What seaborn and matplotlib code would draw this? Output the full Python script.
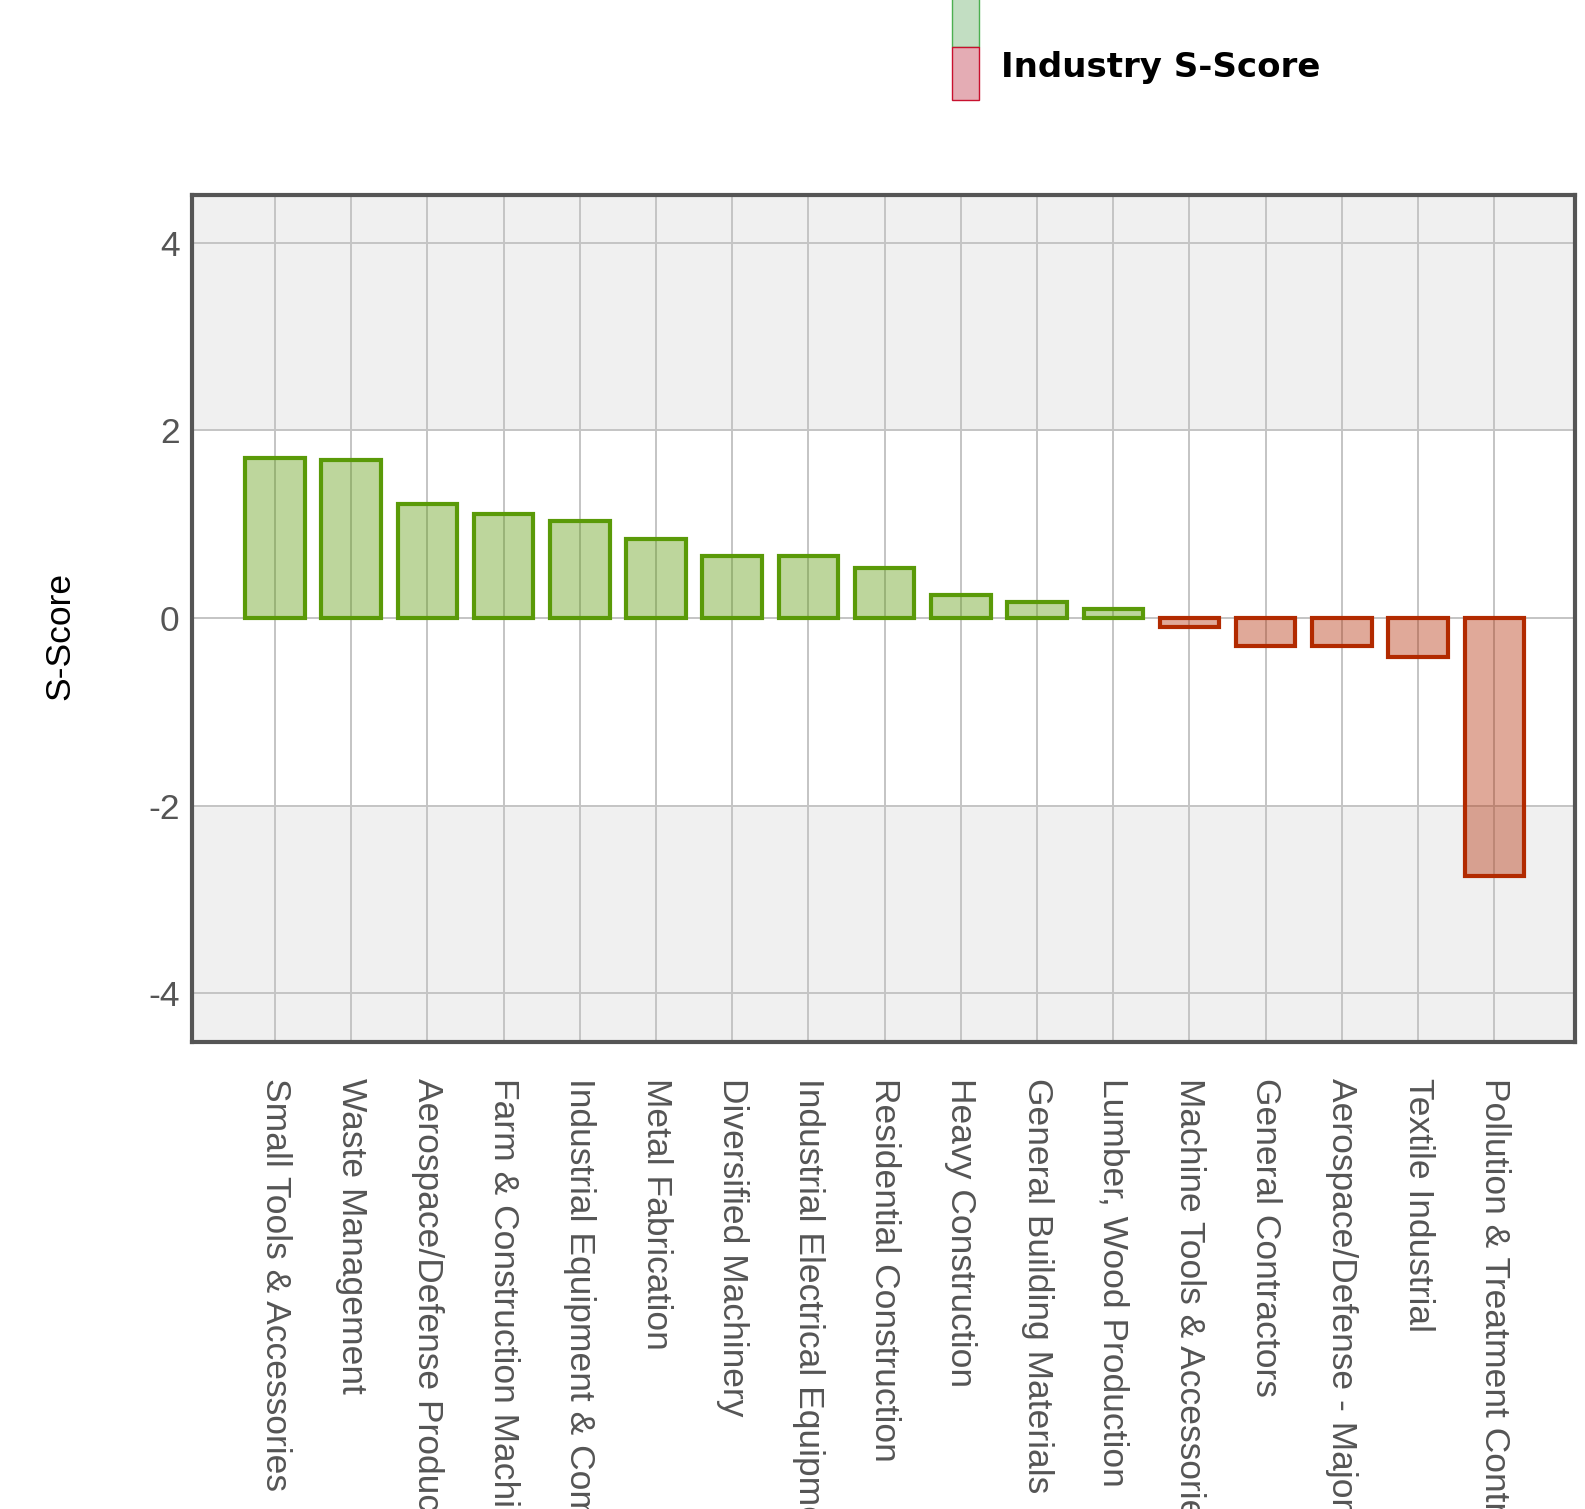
import matplotlib
matplotlib.use("Agg")
from matplotlib import pyplot as plt
from matplotlib.patches import Rectangle
from matplotlib.colors import to_rgba
import pandas as pd
import seaborn as sns

# data
industries = [
    "Small Tools & Accessories",
    "Waste Management",
    "Aerospace/Defense Products & Services",
    "Farm & Construction Machinery",
    "Industrial Equipment & Components",
    "Metal Fabrication",
    "Diversified Machinery",
    "Industrial Electrical Equipment",
    "Residential Construction",
    "Heavy Construction",
    "General Building Materials",
    "Lumber, Wood Production",
    "Machine Tools & Accessories",
    "General Contractors",
    "Aerospace/Defense - Major Diversified",
    "Textile Industrial",
    "Pollution & Treatment Controls",
]
s_scores = [1.71, 1.68, 1.22, 1.11, 1.03, 0.84, 0.66, 0.66, 0.53,
            0.24, 0.17, 0.10, -0.10, -0.30, -0.30, -0.42, -2.75]
y_ticks = [-4, -2, 0, 2, 4]

GREEN = "#5a9a08"
RED = "#b22a00"

df = pd.DataFrame({"industry": industries, "score": s_scores})
df["sign"] = ["pos" if v >= 0 else "neg" for v in df["score"]]

sns.set_style("white")
plt.rcParams["font.family"] = ["Liberation Sans", "DejaVu Sans"]
plt.rcParams["axes.unicode_minus"] = False

fig = plt.figure(figsize=(15.85, 15.09), dpi=100)
ax = fig.add_axes([0.1211, 0.3095, 0.8726, 0.5613])

# grey outside the +-2 band, white inside
ax.set_facecolor("#f0f0f0")
ax.axhspan(-2, 2, color="white", zorder=0)

sns.barplot(data=df, x="industry", y="score", hue="sign",
            palette={"pos": GREEN, "neg": RED}, dodge=False,
            width=0.78, legend=False, ax=ax)

# light fill + strong edge for every bar
for cont in ax.containers:
    for bar in cont:
        h = bar.get_height()
        c = GREEN if h >= 0 else RED
        bar.set_facecolor(to_rgba(c, 0.4))
        bar.set_edgecolor(c)
        bar.set_linewidth(3)

ax.set_xlim(-1.09, 17.06)
ax.set_ylim(-4.52, 4.51)
ax.set_yticks(y_ticks)
ax.set_axisbelow(True)
ax.grid(True, color="#c4c4c4", linewidth=1.4)

for s in ax.spines.values():
    s.set_visible(True)
    s.set_color("#555555")
    s.set_linewidth(3)

ax.tick_params(axis="both", length=0, labelsize=25.5, labelcolor="#555555")
ax.tick_params(axis="y", pad=9)
ax.tick_params(axis="x", pad=26)
plt.setp(ax.get_xticklabels(), rotation=270, ha="center", va="top")

ax.set_xlabel("")
ax.set_ylabel("S-Score", fontsize=25.5, color="black")
ax.yaxis.set_label_coords(-0.0839, 0.479)

# legend at the top (partly cut off like the reference)
fig.patches.append(Rectangle((952 / 1585, 1 - 47 / 1509), 27 / 1585, 80 / 1509,
                             transform=fig.transFigure, facecolor="#c2dec2",
                             edgecolor="#4caf50", linewidth=1))
fig.patches.append(Rectangle((952 / 1585, 1 - 100 / 1509), 27 / 1585, 53 / 1509,
                             transform=fig.transFigure, facecolor="#e4acb4",
                             edgecolor="#c8102e", linewidth=1))
fig.text(1001 / 1585, 1 - 67 / 1509, "Industry S-Score", fontsize=24.5,
         fontweight="bold", family=["DejaVu Sans"], color="black",
         va="center", ha="left")

fig.savefig("out.png", dpi=100)
